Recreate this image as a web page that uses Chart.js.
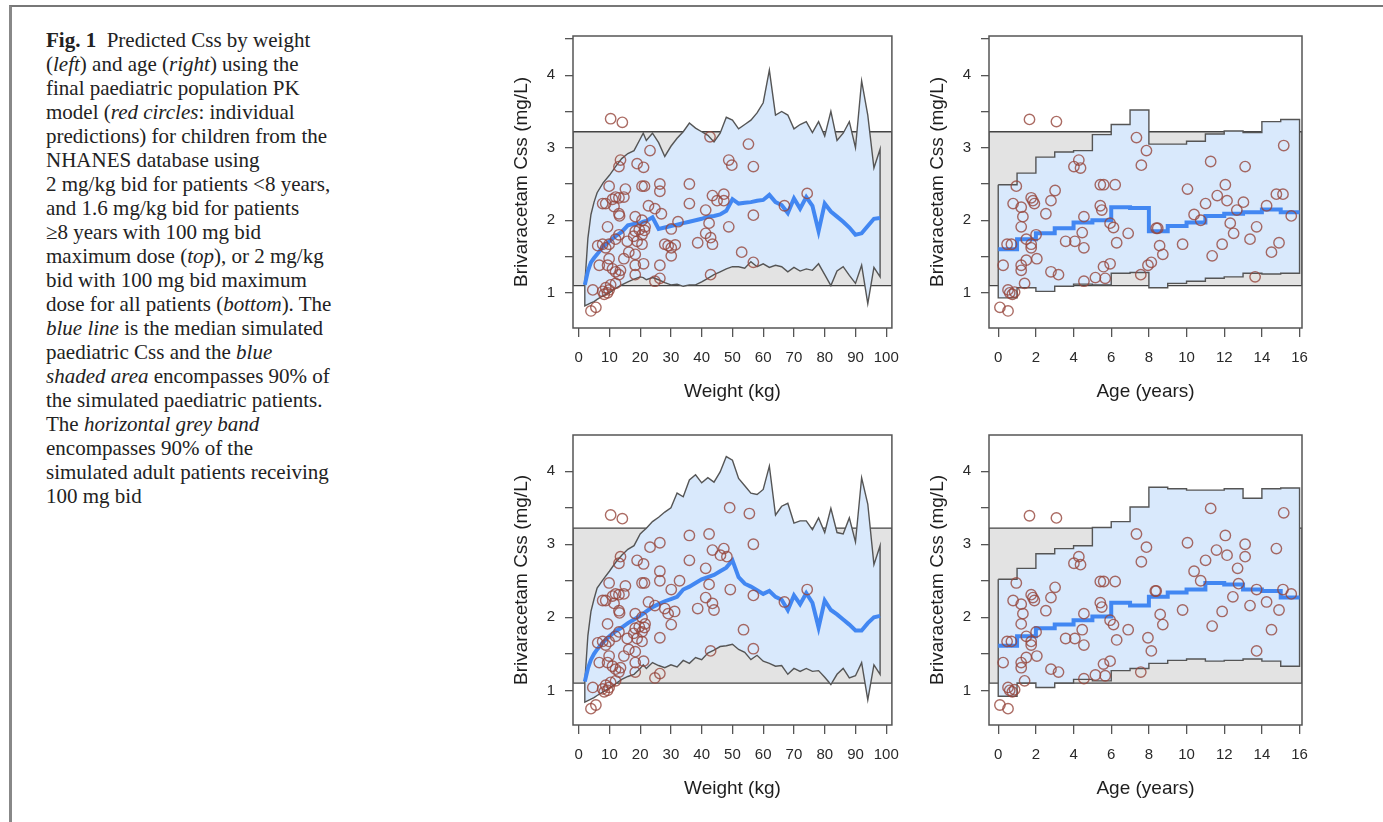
<!DOCTYPE html>
<html>
<head>
<meta charset="utf-8">
<script src="https://cdn.jsdelivr.net/npm/chart.js@4.4.1/dist/chart.umd.min.js"></script>
<style>
  body { margin: 0; background: #fff; width: 1383px; height: 822px; overflow: hidden; position: relative; }
  #frame { position: absolute; left: 9px; top: 5px; right: 0; bottom: 0; border-top: 2px solid #777; border-left: 3px solid #888; }
  #caption { position: absolute; left: 46px; top: 28px; font: 21px/24px "Liberation Serif", "Times New Roman", serif; color: #222; white-space: nowrap; }
  canvas { position: absolute; }
</style>
</head>
<body>
<div id="frame"></div>
<div id="caption"><b>Fig. 1</b>&nbsp; Predicted Css by weight<br>(<i>left</i>) and age (<i>right</i>) using the<br>final paediatric population PK<br>model (<i>red circles</i>: individual<br>predictions) for children from the<br>NHANES database using<br>2 mg/kg bid for patients &lt;8 years,<br>and 1.6 mg/kg bid for patients<br>≥8 years with 100 mg bid<br>maximum dose (<i>top</i>), or 2 mg/kg<br>bid with 100 mg bid maximum<br>dose for all patients (<i>bottom</i>). The<br><i>blue line</i> is the median simulated<br>paediatric Css and the <i>blue</i><br><i>shaded area</i> encompasses 90% of<br>the simulated paediatric patients.<br>The <i>horizontal grey band</i><br>encompasses 90% of the<br>simulated adult patients receiving<br>100 mg bid</div>
<canvas id="wtTop"></canvas>
<canvas id="ageTop"></canvas>
<canvas id="wtBot"></canvas>
<canvas id="ageBot"></canvas>
<script>
// adult 90% band (mg/L)
const adultBand = [1.1, 3.22];

// weight bins of the simulated paediatric bands (kg)
const weightGrid = [2, 3, 4, 5, 6, 8, 10, 12, 14, 16, 18, 20, 21, 22, 24, 26, 28, 30, 32, 34, 36, 38, 40, 42, 44, 46, 48,
  50, 52, 54, 56, 58, 60, 62, 64, 66, 68, 70, 72, 74, 76, 78, 80, 82, 84, 86, 88, 90, 92, 94, 96, 98];

// top: 2 mg/kg <8 y, 1.6 mg/kg >=8 y
const wtTopUpper = [1.12, 1.75, 2.08, 2.25, 2.38, 2.52, 2.62, 2.74, 2.85, 2.92, 2.96, 3.12, 3.2, 3.1, 3.2, 3.07, 2.88, 3.02, 3.13, 3.22, 3.34, 3.27,
  3.22, 3.17, 3.08, 3.2, 3.42, 3.38, 3.26, 3.32, 3.38, 3.48, 3.62, 4.07, 3.45, 3.5, 3.45, 3.26, 3.32, 3.36, 3.21, 3.36, 3.16, 3.5,
  3.1, 3.2, 3.36, 3.0, 3.92, 3.45, 2.72, 2.98];
const wtTopLower = [0.82, 0.84, 0.86, 0.88, 0.91, 0.96, 1.0, 1.06, 1.11, 1.15, 1.19, 1.22, 1.21, 1.18, 1.21, 1.18, 1.14, 1.11, 1.12, 1.09, 1.11, 1.11,
  1.15, 1.2, 1.25, 1.29, 1.33, 1.36, 1.36, 1.34, 1.43, 1.36, 1.4, 1.35, 1.38, 1.36, 1.29, 1.35, 1.3, 1.33, 1.31, 1.4, 1.25, 1.1,
  1.3, 1.36, 1.24, 1.13, 1.38, 0.85, 1.35, 1.22];
const wtTopMedian = [1.11, 1.3, 1.42, 1.48, 1.53, 1.64, 1.71, 1.78, 1.84, 1.93, 1.95, 1.96, 1.98, 1.99, 2.04, 1.88, 1.9, 1.92, 1.94, 1.96, 1.98, 2.0,
  2.02, 2.05, 2.06, 2.08, 2.13, 2.29, 2.23, 2.24, 2.25, 2.27, 2.28, 2.35, 2.25, 2.21, 2.1, 2.3, 2.16, 2.32, 2.2, 1.85, 2.23, 2.12,
  2.05, 1.98, 1.9, 1.8, 1.82, 1.92, 2.02, 2.03];

// bottom: 2 mg/kg for all
const wtBotUpper = [1.12, 1.75, 2.08, 2.25, 2.4, 2.52, 2.63, 2.75, 2.85, 2.93, 2.98, 3.14, 3.18, 3.22, 3.31, 3.37, 3.44, 3.5, 3.7, 3.65, 3.88, 3.95,
  3.84, 3.91, 3.85, 3.99, 4.2, 4.15, 3.9, 3.8, 3.7, 3.68, 3.75, 4.07, 3.4, 3.52, 3.56, 3.29, 3.32, 3.32, 3.2, 3.36, 3.16, 3.49,
  3.16, 3.14, 3.36, 3.03, 3.91, 3.55, 2.72, 2.98];
const wtBotLower = [0.84, 0.86, 0.88, 0.9, 0.93, 0.98, 1.03, 1.09, 1.15, 1.19, 1.22, 1.3, 1.35, 1.3, 1.38, 1.34, 1.31, 1.35, 1.32, 1.41, 1.37, 1.45,
  1.42, 1.51, 1.55, 1.6, 1.61, 1.63, 1.56, 1.52, 1.42, 1.48, 1.4, 1.37, 1.33, 1.34, 1.22, 1.3, 1.26, 1.3, 1.26, 1.27, 1.18, 1.08,
  1.22, 1.3, 1.17, 1.2, 1.38, 0.87, 1.35, 1.22];
const wtBotMedian = [1.12, 1.3, 1.42, 1.5, 1.56, 1.66, 1.74, 1.81, 1.86, 1.92, 1.97, 2.02, 2.05, 2.08, 2.14, 2.18, 2.22, 2.25, 2.28, 2.38, 2.42, 2.47,
  2.52, 2.55, 2.58, 2.63, 2.68, 2.78, 2.55, 2.46, 2.42, 2.37, 2.32, 2.36, 2.28, 2.24, 2.1, 2.3, 2.18, 2.33, 2.2, 1.86, 2.23, 2.1,
  2.04, 1.97, 1.9, 1.82, 1.82, 1.92, 2.0, 2.02];

// age bin edges (years) and per-bin values
const ageEdges = [0, 1, 2, 3, 4, 5, 6, 7, 8, 9, 10, 11, 12, 13, 14, 15, 16];
const ageTopUpper = [2.49, 2.65, 2.87, 2.94, 2.96, 3.18, 3.32, 3.52, 3.05, 3.05, 3.09, 3.19, 3.23, 3.21, 3.36, 3.39];
const ageTopLower = [0.93, 1.07, 1.02, 1.09, 1.12, 1.11, 1.27, 1.28, 1.07, 1.13, 1.16, 1.2, 1.22, 1.27, 1.26, 1.27];
const ageTopMedian = [1.6, 1.74, 1.82, 1.89, 1.97, 2.0, 2.18, 2.17, 1.85, 1.92, 1.97, 2.06, 2.09, 2.11, 2.15, 2.11];
const ageBotUpper = [2.52, 2.67, 2.87, 2.94, 2.98, 3.23, 3.31, 3.51, 3.78, 3.76, 3.74, 3.74, 3.76, 3.63, 3.76, 3.77];
const ageBotLower = [0.92, 1.1, 1.04, 1.1, 1.15, 1.13, 1.27, 1.3, 1.37, 1.41, 1.43, 1.4, 1.41, 1.43, 1.4, 1.33];
const ageBotMedian = [1.61, 1.74, 1.85, 1.9, 1.96, 2.01, 2.2, 2.16, 2.28, 2.34, 2.38, 2.47, 2.45, 2.38, 2.36, 2.27];

// individual predictions (red circles)
const indWtTopX = [4.0, 5.6, 4.6, 10.4, 14.2, 23.2, 19.0, 21.1, 42.7, 55.2, 48.8, 49.8, 56.8, 13.1, 13.6, 9.9, 15.2, 20.6, 21.4, 26.4,
  26.4, 36.0, 36.0, 43.5, 45.0, 47.2, 47.2, 74.3, 66.9, 7.8, 8.8, 11.0, 12.0, 13.1, 14.7, 11.5, 13.1, 13.3, 22.7, 24.8,
  26.9, 18.4, 20.6, 21.6, 41.3, 42.4, 48.8, 56.8, 32.3, 30.1, 9.4, 12.0, 13.1, 15.8, 18.4, 17.9, 19.0, 19.7, 20.6, 20.6,
  21.4, 6.2, 7.8, 8.8, 9.9, 28.0, 29.1, 30.1, 31.4, 41.3, 42.9, 43.5, 38.7, 6.7, 9.4, 9.9, 14.7, 18.4, 18.4, 21.1,
  26.4, 30.1, 53.0, 56.8, 11.0, 12.0, 13.1, 13.6, 18.4, 26.4, 24.8, 42.9, 8.8, 9.9, 9.4, 8.3, 7.8, 10.4, 12.0, 16.3];
const indWtTopY = [0.75, 0.8, 1.04, 3.4, 3.35, 2.96, 2.78, 2.73, 3.15, 3.05, 2.83, 2.76, 2.74, 2.74, 2.83, 2.47, 2.43, 2.47, 2.47, 2.5,
  2.4, 2.5, 2.23, 2.34, 2.27, 2.36, 2.27, 2.37, 2.2, 2.23, 2.23, 2.29, 2.32, 2.31, 2.32, 2.19, 2.09, 2.06, 2.2, 2.16,
  2.09, 2.05, 2.0, 1.91, 2.14, 1.96, 1.91, 2.07, 1.98, 1.88, 1.91, 1.74, 1.8, 1.71, 1.85, 1.78, 1.71, 1.87, 1.8, 1.67,
  1.86, 1.65, 1.67, 1.62, 1.67, 1.67, 1.65, 1.62, 1.66, 1.82, 1.76, 1.67, 1.69, 1.38, 1.38, 1.47, 1.47, 1.53, 1.38, 1.4,
  1.38, 1.51, 1.56, 1.42, 1.33, 1.29, 1.25, 1.31, 1.25, 1.2, 1.16, 1.25, 1.07, 1.04, 1.0, 0.98, 1.02, 1.11, 1.13, 1.56];

const indWtBotX = [4.0, 5.6, 4.6, 10.4, 14.2, 23.2, 19.0, 21.1, 13.1, 13.6, 9.9, 15.2, 20.6, 21.4, 7.8, 8.8, 11.0, 12.0, 13.1, 14.7,
  11.5, 13.1, 13.3, 18.4, 20.6, 21.6, 9.4, 12.0, 13.1, 15.8, 18.4, 17.9, 19.0, 19.7, 20.6, 20.6, 21.4, 6.2, 7.8, 8.8,
  9.9, 6.7, 9.4, 9.9, 14.7, 18.4, 18.4, 21.1, 11.0, 12.0, 13.1, 13.6, 18.4, 8.8, 9.9, 9.4, 8.3, 7.8, 10.4, 12.0,
  16.3, 26.4, 36.0, 42.4, 43.5, 47.2, 46.1, 48.2, 49.1, 55.5, 56.8, 36.0, 26.4, 26.4, 32.8, 30.1, 41.3, 42.4, 49.3, 56.8,
  74.3, 66.9, 41.3, 43.5, 44.0, 38.7, 28.0, 29.1, 31.2, 30.1, 26.4, 53.6, 56.8, 42.9, 24.8, 26.4, 22.7, 24.8];
const indWtBotY = [0.75, 0.8, 1.04, 3.4, 3.35, 2.96, 2.78, 2.73, 2.74, 2.83, 2.47, 2.43, 2.47, 2.47, 2.23, 2.23, 2.29, 2.32, 2.31, 2.32,
  2.19, 2.09, 2.06, 2.05, 2.0, 1.91, 1.91, 1.74, 1.8, 1.71, 1.85, 1.78, 1.71, 1.87, 1.8, 1.67, 1.86, 1.65, 1.67, 1.62,
  1.67, 1.38, 1.38, 1.47, 1.47, 1.53, 1.38, 1.4, 1.33, 1.29, 1.25, 1.31, 1.25, 1.07, 1.04, 1.0, 0.98, 1.02, 1.11, 1.13,
  1.56, 3.02, 3.12, 3.14, 2.92, 2.94, 2.85, 2.83, 3.5, 3.42, 3.0, 2.78, 2.63, 2.5, 2.5, 2.38, 2.67, 2.45, 2.38, 2.3,
  2.38, 2.21, 2.27, 2.19, 2.1, 2.12, 2.12, 2.05, 2.08, 1.9, 1.72, 1.83, 1.57, 1.54, 1.17, 1.23, 2.21, 2.16];

const indAgeTopX = [0.09, 0.52, 0.26, 0.52, 0.61, 0.75, 0.87, 0.47, 0.7, 0.79, 0.96, 1.22, 1.31, 1.22, 1.22, 1.22, 1.4, 1.49, 1.49, 1.66,
  1.75, 1.84, 1.92, 1.75, 1.75, 2.01, 2.05, 2.53, 2.8, 3.02, 2.8, 3.2, 3.09, 3.58, 4.07, 4.02, 4.28, 4.37, 4.55, 4.46,
  4.55, 4.55, 5.16, 5.42, 5.6, 5.42, 5.5, 5.59, 5.68, 5.94, 5.94, 6.12, 6.21, 6.29, 6.9, 7.34, 7.6, 7.87, 7.57, 7.95,
  8.13, 8.39, 8.47, 8.57, 8.74, 9.79, 10.05, 10.4, 10.75, 11.01, 11.28, 11.36, 11.63, 11.89, 12.06, 12.15, 12.32, 12.5, 12.67, 13.02,
  13.11, 13.37, 13.72, 13.64, 14.25, 14.51, 14.77, 14.91, 15.12, 15.16, 15.56];
const indAgeTopY = [0.8, 0.75, 1.38, 1.04, 1.0, 0.98, 1.01, 1.67, 1.67, 2.23, 2.47, 2.18, 2.05, 1.91, 1.38, 1.31, 1.13, 1.45, 1.74, 3.39,
  2.31, 2.27, 2.23, 1.67, 1.62, 1.8, 1.47, 2.09, 2.27, 2.41, 1.29, 1.25, 3.36, 1.71, 1.71, 2.74, 2.83, 2.72, 2.05, 1.83,
  1.62, 1.16, 1.21, 2.49, 2.49, 2.2, 2.14, 1.36, 1.2, 1.4, 1.96, 1.9, 2.49, 1.69, 1.82, 3.14, 2.76, 2.96, 1.25, 1.38,
  1.42, 1.89, 1.89, 1.65, 1.53, 1.67, 2.43, 2.08, 2.0, 2.23, 2.81, 1.51, 2.34, 1.67, 2.49, 2.27, 1.96, 1.82, 2.14, 2.25,
  2.74, 1.74, 1.91, 1.22, 2.2, 1.56, 2.36, 1.69, 2.36, 3.03, 2.06];

const indAgeBotX = [0.09, 0.52, 0.26, 0.52, 0.61, 0.75, 0.87, 0.47, 0.7, 0.79, 0.96, 1.22, 1.31, 1.22, 1.22, 1.22, 1.4, 1.49, 1.49, 1.66,
  1.75, 1.84, 1.92, 1.75, 1.75, 2.01, 2.05, 2.53, 2.8, 3.02, 2.8, 3.2, 3.09, 3.58, 4.07, 4.02, 4.28, 4.37, 4.55, 4.46,
  4.55, 4.55, 5.16, 5.42, 5.6, 5.42, 5.5, 5.59, 5.68, 5.94, 5.94, 6.12, 6.21, 6.29, 6.9, 7.34, 7.6, 7.87, 7.57, 7.95,
  8.13, 8.34, 8.39, 8.6, 8.74, 9.79, 10.05, 10.4, 10.75, 11.01, 11.28, 11.36, 11.59, 11.89, 12.06, 12.15, 12.46, 12.71, 12.76, 13.11,
  13.11, 13.37, 13.72, 13.72, 14.25, 14.51, 14.77, 14.91, 15.12, 15.16, 15.56];
const indAgeBotY = [0.8, 0.75, 1.38, 1.04, 1.0, 0.98, 1.01, 1.67, 1.67, 2.23, 2.47, 2.18, 2.05, 1.91, 1.38, 1.31, 1.13, 1.45, 1.74, 3.39,
  2.31, 2.27, 2.23, 1.67, 1.62, 1.8, 1.47, 2.09, 2.27, 2.41, 1.29, 1.25, 3.36, 1.71, 1.71, 2.74, 2.83, 2.72, 2.05, 1.83,
  1.62, 1.16, 1.21, 2.49, 2.49, 2.2, 2.14, 1.36, 1.2, 1.4, 1.96, 1.9, 2.49, 1.69, 1.83, 3.14, 2.76, 2.96, 1.25, 1.72,
  1.54, 2.36, 2.36, 2.04, 1.9, 2.1, 3.02, 2.63, 2.5, 2.78, 3.49, 1.88, 2.92, 2.08, 3.12, 2.85, 2.28, 2.67, 2.46, 3.0,
  2.83, 2.16, 1.54, 2.38, 2.21, 1.83, 2.94, 2.1, 2.38, 3.43, 2.32];

Chart.defaults.font.family = '"Liberation Sans", Arial, sans-serif';

const OUTLINE = '#555';
const BLUE_FILL = '#d9e9fc';
const GREY_FILL = '#e3e3e3';
const MEDIAN = '#4287f2';

// R-style plot frame
const boxPlugin = {
  id: 'box',
  afterDatasetsDraw(chart) {
    const { ctx, chartArea: a } = chart;
    ctx.save();
    ctx.strokeStyle = OUTLINE;
    ctx.lineWidth = 1.5;
    ctx.strokeRect(a.left, a.top, a.right - a.left, a.bottom - a.top);
    ctx.restore();
  }
};

function toPoints(xs, ys) {
  return xs.map((x, i) => ({ x: x, y: ys[i] }));
}

function adultBandSet(xMin, xMax) {
  const lo = adultBand[0], hi = adultBand[1];
  return {
    data: [{ x: xMin, y: lo }, { x: xMax, y: lo }, { x: xMax, y: hi }, { x: xMin, y: hi }, { x: xMin, y: lo }],
    fill: 'shape', backgroundColor: GREY_FILL, borderColor: '#444', borderWidth: 1.3,
    pointRadius: 0, order: 4
  };
}

function weightPolygon(up, lo) {
  const top = toPoints(weightGrid, up);
  const bottom = toPoints(weightGrid, lo).reverse();
  return {
    data: top.concat(bottom, [top[0]]),
    fill: 'shape', backgroundColor: BLUE_FILL, borderColor: OUTLINE, borderWidth: 1.4,
    pointRadius: 0, order: 3
  };
}

function agePolygon(up, lo) {
  const last = up.length - 1;
  const top = ageEdges.map((a, i) => ({ x: a, y: up[Math.min(i, last)] }));
  const bottom = ageEdges.map((a, i) => ({ x: a, y: lo[Math.max(i - 1, 0)] })).reverse();
  return {
    data: top.concat(bottom, [top[0]]),
    stepped: true, fill: 'shape', backgroundColor: BLUE_FILL, borderColor: OUTLINE, borderWidth: 1.4,
    pointRadius: 0, order: 3
  };
}

function medianSet(data, stepped) {
  return { data: data, stepped: stepped, borderColor: MEDIAN, borderWidth: 4, pointRadius: 0, fill: false, order: 2 };
}

function pointSet(xs, ys) {
  return {
    data: toPoints(xs, ys), showLine: false, pointRadius: 5.2, pointBorderWidth: 1.4,
    pointBorderColor: 'rgba(150,70,60,0.8)', pointBackgroundColor: 'rgba(0,0,0,0)', order: 1
  };
}

function makePanel(id, box, xAxis, yLim, datasets) {
  const cv = document.getElementById(id);
  const padTop = 10, padRight = 14, yW = 70, xH = 85;
  cv.style.left = (box.left - yW) + 'px';
  cv.style.top = (box.top - padTop) + 'px';
  cv.width = box.right - box.left + yW + padRight;
  cv.height = box.bottom - box.top + padTop + xH;

  new Chart(cv, {
    type: 'line',
    data: { datasets: datasets },
    options: {
      responsive: false,
      animation: false,
      devicePixelRatio: 1,
      events: [],
      layout: { padding: { top: padTop, right: padRight, left: 0, bottom: 0 } },
      elements: { line: { tension: 0 } },
      plugins: { legend: { display: false }, tooltip: { enabled: false } },
      scales: {
        x: {
          type: 'linear', min: xAxis.min, max: xAxis.max,
          afterFit: s => { s.height = xH; },
          ticks: { stepSize: xAxis.step, includeBounds: false, autoSkip: false, maxRotation: 0, padding: 12,
                   color: '#2a2a2a', font: { size: 15 } },
          grid: { drawOnChartArea: false, tickLength: 9, color: OUTLINE, lineWidth: 1.3 },
          border: { display: false },
          title: { display: true, text: xAxis.title, color: '#1e1e1e', font: { size: 19 }, padding: { top: 0, bottom: 10 } }
        },
        y: {
          type: 'linear', min: yLim[0], max: yLim[1],
          afterFit: s => { s.width = yW; },
          ticks: { stepSize: 0.5, includeBounds: false, autoSkip: false, padding: 10, color: '#2a2a2a', font: { size: 15 },
                   callback: v => Number.isInteger(v) ? String(v) : '' },
          grid: { drawOnChartArea: false, tickLength: 8, color: OUTLINE, lineWidth: 1.3 },
          border: { display: false },
          title: { display: true, text: 'Brivaracetam Css (mg/L)', color: '#1e1e1e', font: { size: 19 }, padding: { top: 7.6, bottom: 0 } }
        }
      }
    },
    plugins: [boxPlugin]
  });
}

const weightAxis = { min: -1.84, max: 101.84, step: 10, title: 'Weight (kg)' };
const ageAxis = { min: -0.49, max: 16.13, step: 2, title: 'Age (years)' };

function stepLine(vals) {
  const last = vals.length - 1;
  return ageEdges.map((a, i) => ({ x: a, y: vals[Math.min(i, last)] }));
}

makePanel('wtTop', { left: 573, top: 27, right: 897, bottom: 328 }, weightAxis, [0.515, 4.54], [
  pointSet(indWtTopX, indWtTopY),
  medianSet(toPoints(weightGrid, wtTopMedian), false),
  weightPolygon(wtTopUpper, wtTopLower),
  adultBandSet(weightAxis.min, weightAxis.max)
]);

makePanel('ageTop', { left: 989, top: 27, right: 1306, bottom: 328 }, ageAxis, [0.515, 4.54], [
  pointSet(indAgeTopX, indAgeTopY),
  medianSet(stepLine(ageTopMedian), true),
  agePolygon(ageTopUpper, ageTopLower),
  adultBandSet(ageAxis.min, ageAxis.max)
]);

makePanel('wtBot', { left: 573, top: 426, right: 897, bottom: 725 }, weightAxis, [0.526, 4.495], [
  pointSet(indWtBotX, indWtBotY),
  medianSet(toPoints(weightGrid, wtBotMedian), false),
  weightPolygon(wtBotUpper, wtBotLower),
  adultBandSet(weightAxis.min, weightAxis.max)
]);

makePanel('ageBot', { left: 989, top: 426, right: 1306, bottom: 725 }, ageAxis, [0.526, 4.495], [
  pointSet(indAgeBotX, indAgeBotY),
  medianSet(stepLine(ageBotMedian), true),
  agePolygon(ageBotUpper, ageBotLower),
  adultBandSet(ageAxis.min, ageAxis.max)
]);
</script>
</body>
</html>
